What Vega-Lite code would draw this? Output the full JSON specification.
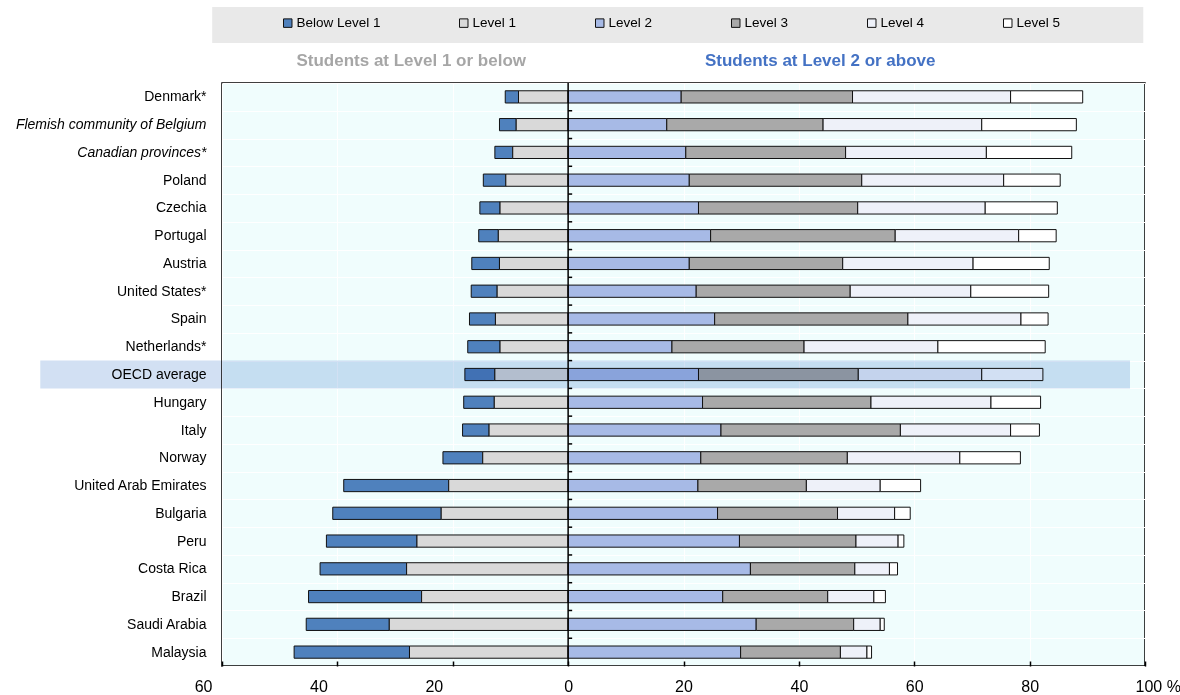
{
  "$schema": "https://vega.github.io/schema/vega-lite/v6.json",
  "width": 923,
  "height": 583,
  "autosize": {"type": "none"},
  "padding": {"left": 222, "top": 83, "right": 35, "bottom": 29},
  "background": "#ffffff",
  "config": {
    "font": "Liberation Sans, Arial, sans-serif",
    "view": {"stroke": "#000000", "strokeWidth": 1.5, "fill": "#f0fdfd"}
  },
  "datasets": {
    "pisa": [
      {"country": "Denmark*", "level": "Below Level 1", "value": -2.3},
      {"country": "Denmark*", "level": "Level 1", "value": -8.6},
      {"country": "Denmark*", "level": "Level 2", "value": 19.6},
      {"country": "Denmark*", "level": "Level 3", "value": 29.7},
      {"country": "Denmark*", "level": "Level 4", "value": 27.4},
      {"country": "Denmark*", "level": "Level 5", "value": 12.5},
      {"country": "Flemish community of Belgium", "level": "Below Level 1", "value": -2.9},
      {"country": "Flemish community of Belgium", "level": "Level 1", "value": -9.0},
      {"country": "Flemish community of Belgium", "level": "Level 2", "value": 17.1},
      {"country": "Flemish community of Belgium", "level": "Level 3", "value": 27.1},
      {"country": "Flemish community of Belgium", "level": "Level 4", "value": 27.5},
      {"country": "Flemish community of Belgium", "level": "Level 5", "value": 16.4},
      {"country": "Canadian provinces*", "level": "Below Level 1", "value": -3.1},
      {"country": "Canadian provinces*", "level": "Level 1", "value": -9.6},
      {"country": "Canadian provinces*", "level": "Level 2", "value": 20.4},
      {"country": "Canadian provinces*", "level": "Level 3", "value": 27.7},
      {"country": "Canadian provinces*", "level": "Level 4", "value": 24.4},
      {"country": "Canadian provinces*", "level": "Level 5", "value": 14.8},
      {"country": "Poland", "level": "Below Level 1", "value": -3.9},
      {"country": "Poland", "level": "Level 1", "value": -10.8},
      {"country": "Poland", "level": "Level 2", "value": 21.0},
      {"country": "Poland", "level": "Level 3", "value": 29.9},
      {"country": "Poland", "level": "Level 4", "value": 24.6},
      {"country": "Poland", "level": "Level 5", "value": 9.8},
      {"country": "Czechia", "level": "Below Level 1", "value": -3.5},
      {"country": "Czechia", "level": "Level 1", "value": -11.8},
      {"country": "Czechia", "level": "Level 2", "value": 22.6},
      {"country": "Czechia", "level": "Level 3", "value": 27.6},
      {"country": "Czechia", "level": "Level 4", "value": 22.1},
      {"country": "Czechia", "level": "Level 5", "value": 12.5},
      {"country": "Portugal", "level": "Below Level 1", "value": -3.4},
      {"country": "Portugal", "level": "Level 1", "value": -12.1},
      {"country": "Portugal", "level": "Level 2", "value": 24.7},
      {"country": "Portugal", "level": "Level 3", "value": 32.0},
      {"country": "Portugal", "level": "Level 4", "value": 21.4},
      {"country": "Portugal", "level": "Level 5", "value": 6.5},
      {"country": "Austria", "level": "Below Level 1", "value": -4.8},
      {"country": "Austria", "level": "Level 1", "value": -11.9},
      {"country": "Austria", "level": "Level 2", "value": 21.0},
      {"country": "Austria", "level": "Level 3", "value": 26.6},
      {"country": "Austria", "level": "Level 4", "value": 22.6},
      {"country": "Austria", "level": "Level 5", "value": 13.2},
      {"country": "United States*", "level": "Below Level 1", "value": -4.5},
      {"country": "United States*", "level": "Level 1", "value": -12.3},
      {"country": "United States*", "level": "Level 2", "value": 22.2},
      {"country": "United States*", "level": "Level 3", "value": 26.7},
      {"country": "United States*", "level": "Level 4", "value": 20.9},
      {"country": "United States*", "level": "Level 5", "value": 13.5},
      {"country": "Spain", "level": "Below Level 1", "value": -4.5},
      {"country": "Spain", "level": "Level 1", "value": -12.6},
      {"country": "Spain", "level": "Level 2", "value": 25.4},
      {"country": "Spain", "level": "Level 3", "value": 33.5},
      {"country": "Spain", "level": "Level 4", "value": 19.6},
      {"country": "Spain", "level": "Level 5", "value": 4.7},
      {"country": "Netherlands*", "level": "Below Level 1", "value": -5.6},
      {"country": "Netherlands*", "level": "Level 1", "value": -11.8},
      {"country": "Netherlands*", "level": "Level 2", "value": 18.0},
      {"country": "Netherlands*", "level": "Level 3", "value": 22.9},
      {"country": "Netherlands*", "level": "Level 4", "value": 23.2},
      {"country": "Netherlands*", "level": "Level 5", "value": 18.6},
      {"country": "OECD average", "level": "Below Level 1", "value": -5.2},
      {"country": "OECD average", "level": "Level 1", "value": -12.7},
      {"country": "OECD average", "level": "Level 2", "value": 22.6},
      {"country": "OECD average", "level": "Level 3", "value": 27.7},
      {"country": "OECD average", "level": "Level 4", "value": 21.4},
      {"country": "OECD average", "level": "Level 5", "value": 10.6},
      {"country": "Hungary", "level": "Below Level 1", "value": -5.3},
      {"country": "Hungary", "level": "Level 1", "value": -12.8},
      {"country": "Hungary", "level": "Level 2", "value": 23.3},
      {"country": "Hungary", "level": "Level 3", "value": 29.2},
      {"country": "Hungary", "level": "Level 4", "value": 20.8},
      {"country": "Hungary", "level": "Level 5", "value": 8.6},
      {"country": "Italy", "level": "Below Level 1", "value": -4.6},
      {"country": "Italy", "level": "Level 1", "value": -13.7},
      {"country": "Italy", "level": "Level 2", "value": 26.5},
      {"country": "Italy", "level": "Level 3", "value": 31.1},
      {"country": "Italy", "level": "Level 4", "value": 19.1},
      {"country": "Italy", "level": "Level 5", "value": 5.0},
      {"country": "Norway", "level": "Below Level 1", "value": -6.9},
      {"country": "Norway", "level": "Level 1", "value": -14.8},
      {"country": "Norway", "level": "Level 2", "value": 23.0},
      {"country": "Norway", "level": "Level 3", "value": 25.4},
      {"country": "Norway", "level": "Level 4", "value": 19.5},
      {"country": "Norway", "level": "Level 5", "value": 10.5},
      {"country": "United Arab Emirates", "level": "Below Level 1", "value": -18.2},
      {"country": "United Arab Emirates", "level": "Level 1", "value": -20.7},
      {"country": "United Arab Emirates", "level": "Level 2", "value": 22.5},
      {"country": "United Arab Emirates", "level": "Level 3", "value": 18.8},
      {"country": "United Arab Emirates", "level": "Level 4", "value": 12.8},
      {"country": "United Arab Emirates", "level": "Level 5", "value": 7.0},
      {"country": "Bulgaria", "level": "Below Level 1", "value": -18.8},
      {"country": "Bulgaria", "level": "Level 1", "value": -22.0},
      {"country": "Bulgaria", "level": "Level 2", "value": 25.9},
      {"country": "Bulgaria", "level": "Level 3", "value": 20.8},
      {"country": "Bulgaria", "level": "Level 4", "value": 9.9},
      {"country": "Bulgaria", "level": "Level 5", "value": 2.7},
      {"country": "Peru", "level": "Below Level 1", "value": -15.7},
      {"country": "Peru", "level": "Level 1", "value": -26.2},
      {"country": "Peru", "level": "Level 2", "value": 29.7},
      {"country": "Peru", "level": "Level 3", "value": 20.2},
      {"country": "Peru", "level": "Level 4", "value": 7.3},
      {"country": "Peru", "level": "Level 5", "value": 1.0},
      {"country": "Costa Rica", "level": "Below Level 1", "value": -15.0},
      {"country": "Costa Rica", "level": "Level 1", "value": -28.0},
      {"country": "Costa Rica", "level": "Level 2", "value": 31.6},
      {"country": "Costa Rica", "level": "Level 3", "value": 18.1},
      {"country": "Costa Rica", "level": "Level 4", "value": 6.0},
      {"country": "Costa Rica", "level": "Level 5", "value": 1.4},
      {"country": "Brazil", "level": "Below Level 1", "value": -19.6},
      {"country": "Brazil", "level": "Level 1", "value": -25.4},
      {"country": "Brazil", "level": "Level 2", "value": 26.8},
      {"country": "Brazil", "level": "Level 3", "value": 18.2},
      {"country": "Brazil", "level": "Level 4", "value": 8.0},
      {"country": "Brazil", "level": "Level 5", "value": 2.0},
      {"country": "Saudi Arabia", "level": "Below Level 1", "value": -14.4},
      {"country": "Saudi Arabia", "level": "Level 1", "value": -31.0},
      {"country": "Saudi Arabia", "level": "Level 2", "value": 32.6},
      {"country": "Saudi Arabia", "level": "Level 3", "value": 16.9},
      {"country": "Saudi Arabia", "level": "Level 4", "value": 4.6},
      {"country": "Saudi Arabia", "level": "Level 5", "value": 0.7},
      {"country": "Malaysia", "level": "Below Level 1", "value": -20.0},
      {"country": "Malaysia", "level": "Level 1", "value": -27.5},
      {"country": "Malaysia", "level": "Level 2", "value": 29.9},
      {"country": "Malaysia", "level": "Level 3", "value": 17.3},
      {"country": "Malaysia", "level": "Level 4", "value": 4.6},
      {"country": "Malaysia", "level": "Level 5", "value": 0.8}
    ]
  },
  "layer": [
    {
      "data": {"name": "pisa"},
      "encoding": {
        "y": {
          "field": "country",
          "type": "nominal",
          "sort": ["Denmark*", "Flemish community of Belgium", "Canadian provinces*", "Poland", "Czechia", "Portugal", "Austria", "United States*", "Spain", "Netherlands*", "OECD average", "Hungary", "Italy", "Norway", "United Arab Emirates", "Bulgaria", "Peru", "Costa Rica", "Brazil", "Saudi Arabia", "Malaysia"],
          "scale": {"paddingInner": 0, "paddingOuter": 0},
          "axis": {
            "title": null,
            "ticks": false,
            "domain": false,
            "labelPadding": 16,
            "labelFontSize": 14,
            "labelColor": "#000000",
            "labelLimit": 400,
            "labelFontStyle": {"condition": {"test": "datum.value == 'Flemish community of Belgium' || datum.value == 'Canadian provinces*'", "value": "italic"}, "value": "normal"},
            "grid": true,
            "gridColor": "#ffffff",
            "gridWidth": 1,
            "tickBand": "extent"
          }
        }
      },
      "layer": [
        {
          "transform": [{"filter": "datum.value < 0"}],
          "mark": {"type": "bar", "height": {"band": 0.44}, "stroke": "#111111", "strokeWidth": 1},
          "encoding": {
            "x": {
              "field": "value",
              "type": "quantitative",
              "stack": "zero",
              "scale": {"domain": [-60, 100], "nice": false, "zero": false},
              "axis": {
                "title": null,
                "values": [-60, -40, -20, 0, 20, 40, 60, 80, 100],
                "labelExpr": "datum.value == 100 ? '100 %' : format(abs(datum.value), 'd')",
                "labelFlush": false,
                "labelOverlap": false,
                "domain": false,
                "ticks": true,
                "tickSize": -5,
                "tickColor": "#000000",
                "tickWidth": 1.5,
                "grid": true,
                "gridColor": "#ffffff",
                "gridWidth": 1,
                "labelFontSize": 16,
                "labelColor": "#000000",
                "labelPadding": 17,
                "labelAlign": {"condition": [{"test": "datum.value < 0", "value": "right"}, {"test": "datum.value == 100", "value": "left"}], "value": "center"},
                "labelOffset": {"condition": {"test": "datum.value < 0 || datum.value == 100", "value": -10}, "value": 0}
              }
            },
            "fill": {
              "field": "level",
              "type": "nominal",
              "scale": {
                "domain": ["Below Level 1", "Level 1", "Level 2", "Level 3", "Level 4", "Level 5"],
                "range": ["#4f81bd", "#d9d9d9", "#a7bae6", "#a9a9a9", "#eef1f9", "#ffffff"]
              },
              "legend": {
                "orient": "none",
                "legendX": 59,
                "legendY": -67,
                "direction": "horizontal",
                "columns": 6,
                "title": null,
                "symbolType": "square",
                "symbolSize": 72,
                "symbolStrokeColor": "#000000",
                "symbolStrokeWidth": 1,
                "labelFontSize": 13.5,
                "labelColor": "#000000",
                "labelOffset": 2,
                "columnPadding": 76,
                "padding": 0
              }
            },
            "order": {"field": "level", "sort": "descending"}
          }
        },
        {
          "transform": [{"filter": "datum.value >= 0"}],
          "mark": {"type": "bar", "height": {"band": 0.44}, "stroke": "#111111", "strokeWidth": 1},
          "encoding": {
            "x": {"field": "value", "type": "quantitative", "stack": "zero"},
            "fill": {"field": "level", "type": "nominal"},
            "order": {"field": "level", "sort": "ascending"}
          }
        },
        {
          "transform": [{"filter": "datum.country == 'OECD average' && datum.level == 'Level 2'"}],
          "mark": {"type": "rect", "fill": "#d2e0f3", "blend": "multiply"},
          "encoding": {
            "x": {"datum": -91.5},
            "x2": {"datum": 97.4}
          }
        },
        {
          "transform": [{"filter": "datum.level == 'Level 2' && datum.country != 'Malaysia'"}],
          "mark": {"type": "rule", "color": "#000000", "strokeWidth": 1.5},
          "encoding": {
            "x": {"datum": 0},
            "x2": {"datum": 0.7},
            "y": {
              "field": "country",
              "type": "nominal",
              "bandPosition": 1,
              "sort": ["Denmark*", "Flemish community of Belgium", "Canadian provinces*", "Poland", "Czechia", "Portugal", "Austria", "United States*", "Spain", "Netherlands*", "OECD average", "Hungary", "Italy", "Norway", "United Arab Emirates", "Bulgaria", "Peru", "Costa Rica", "Brazil", "Saudi Arabia", "Malaysia"]
            }
          }
        }
      ]
    },
    {
      "data": {"values": [{}]},
      "mark": {"type": "rule", "color": "#000000", "strokeWidth": 1.5},
      "encoding": {"x": {"datum": 0}}
    },
    {
      "data": {"values": [{}]},
      "layer": [
        {
          "mark": {"type": "rect", "fill": "#e9e9e9"},
          "encoding": {
            "x": {"datum": -61.7},
            "x2": {"datum": 99.7},
            "y": {"datum": 1.1304, "type": "quantitative", "scale": {"domain": [0, 1], "nice": false, "zero": false}, "axis": null},
            "y2": {"datum": 1.0686}
          }
        },
        {
          "mark": {"type": "text", "fontSize": 17, "fontWeight": "bold", "color": "#a6a6a6", "align": "center", "baseline": "middle"},
          "encoding": {
            "x": {"datum": -27.2},
            "y": {"datum": 1.037, "type": "quantitative", "axis": null},
            "text": {"value": "Students at Level 1 or below"}
          }
        },
        {
          "mark": {"type": "text", "fontSize": 17, "fontWeight": "bold", "color": "#4472c4", "align": "center", "baseline": "middle"},
          "encoding": {
            "x": {"datum": 43.7},
            "y": {"datum": 1.037, "type": "quantitative", "axis": null},
            "text": {"value": "Students at Level 2 or above"}
          }
        }
      ]
    }
  ],
  "resolve": {"scale": {"y": "independent"}}
}
